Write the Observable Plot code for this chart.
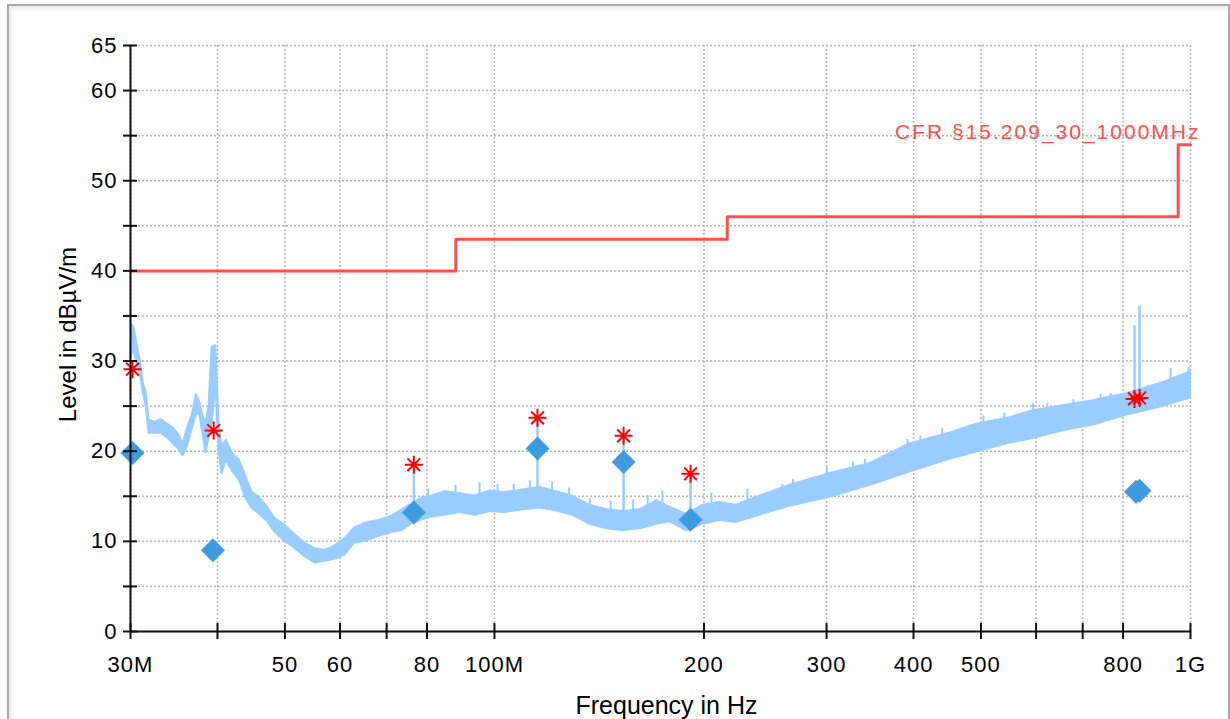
<!DOCTYPE html>
<html><head><meta charset="utf-8">
<script src="https://cdn.jsdelivr.net/npm/d3@7"></script>
<script src="https://cdn.jsdelivr.net/npm/@observablehq/plot@0.6"></script>
<style>
html,body{margin:0;padding:0;background:#fff;overflow:hidden;width:1230px;height:719px;}
#frame{position:absolute;left:7px;top:4px;width:1219px;height:800px;border:2px solid #a9a9a9;box-shadow:inset 3px 3px 4px #ececec;}
#chart{position:absolute;left:0;top:0;}
svg text{font-family:"Liberation Sans",Arial,sans-serif;}
</style></head><body><div id="frame"></div><div id="chart"></div>
<script>
// Spectrum trace envelope (MHz, dBµV/m)
const traceFreq = [30.0,30.2,30.4,30.7,31.0,31.3,31.6,31.9,32.5,33.2,33.9,34.6,35.2,35.7,36.2,36.8,37.3,37.7,38.1,38.5,38.9,39.3,39.8,40.2,40.6,41.2,42.0,43.0,43.8,44.8,46.0,47.2,48.4,50.0,51.6,53.4,55.2,57.1,59.0,61.0,63.0,65.2,68.0,71.3,73.7,76.2,78.7,81.4,84.9,89.2,93.7,98.5,103.5,110,116.2,122.6,129.6,137.1,145,153,161.8,171.1,178.6,188.9,199.1,210.5,222.7,240.4,265.5,303,345.8,394.8,450.6,493,550,594,650,725,811,905,1000];
const traceLow = [30.0,31.0,31.0,29.5,28.5,26.5,25.0,22.0,22.0,22.0,21.5,20.8,20.2,19.5,20.5,22.5,24.0,24.3,22.0,19.8,21.5,23.0,27.5,20.0,17.5,19.0,17.8,16.8,15.0,13.7,13.0,12.2,11.0,10.0,9.3,8.3,7.6,7.8,8.0,8.5,9.8,10.0,10.5,11.0,11.2,12.0,12.4,12.7,12.9,13.2,12.9,13.3,13.2,13.5,13.7,13.4,12.9,11.9,11.4,11.2,11.4,11.9,12.2,11.2,11.9,12.3,12.1,12.9,13.9,14.9,16.2,17.7,19.1,19.9,20.9,21.4,22.2,22.9,24.0,24.9,25.9];
const traceHigh = [31.5,34.0,33.5,31.5,30.0,27.5,26.5,23.5,23.2,23.5,23.0,22.5,21.8,20.8,22.5,24.0,26.3,25.5,24.0,23.0,25.0,31.5,31.7,23.0,20.5,21.2,19.8,19.0,17.5,15.5,14.8,13.8,12.5,11.8,10.8,9.8,9.2,9.0,9.5,10.3,11.5,12.0,12.3,12.8,13.5,14.2,14.8,15.0,15.5,15.3,15.0,15.6,15.4,15.7,16.0,15.5,15.0,14.0,13.5,13.3,13.5,14.5,13.8,13.0,14.0,14.3,14.0,15.0,16.2,17.5,18.6,20.8,22.0,23.0,23.7,24.5,25.0,25.6,26.4,27.5,28.8];
// Narrow spikes in the trace (marker frequencies)
const spikeFreq = [76.6,115.3,153.3,191.3,831,845];
const spikeBase = [13.0,15.0,13.0,13.0,26.0,26.0];
const spikeTop = [18.3,23.5,21.3,17.3,33.9,36.1];
// Small noise hairs on the trace's upper edge
const hairFreq = [80.3,87.9,95.2,101,106.6,112.5,121,128,137.1,146.9,158.2,166,174.3,205,231,259.4,268.5,300.3,327.5,340.6,392,409,440,504,540,594,623,679,743,768,870,936,994];
const hairTop = [15.8,16.2,16.5,16.3,16.3,16.7,16.6,15.9,14.7,14.5,14.6,15.1,15.6,15.3,15.8,16.3,16.9,18.2,18.8,19.1,21.3,21.7,22.5,23.9,24.2,25.3,25.3,25.7,26.3,26.4,27.3,29.2,29.3];
// Peak detector results (red asterisks)
const peakFreq = [30.2,39.5,76.6,115.3,153.3,191.3,831,845];
const peakLevel = [29.1,22.3,18.5,23.7,21.7,17.5,25.8,25.9];
// Quasi-peak results (blue diamonds)
const qpFreq = [30.2,39.4,76.6,115.3,153.3,191.3,835,845];
const qpLevel = [19.8,9.0,13.2,20.3,18.8,12.4,15.5,15.6];
// Limit line
const limitFreq = [30,88,216,960,1000];
const limitLevel = [40,43.5,46,54,54];
const limitName = "CFR §15.209_30_1000MHz";
// Axes
const xTickValues = [30,40,50,60,70,80,100,200,300,400,500,600,700,800,1000];
const xLabelValues = [30,50,60,80,100,200,300,400,500,800,1000];
const xLabelTexts = ["30M","50","60","80","100M","200","300","400","500","800","1G"];
const yTickValues = [0,5,10,15,20,25,30,35,40,45,50,55,60,65];
const yLabelValues = [0,10,20,30,40,50,60,65];
const xTitle = "Frequency in Hz";
const yTitle = "Level in dBµV/m";

const trace = traceFreq.map((f,i)=>({f, lo: traceLow[i], hi: traceHigh[i]}));
const spikes = spikeFreq.map((f,i)=>({f, lo: spikeBase[i], hi: spikeTop[i]}));
const hairs = hairFreq.map((f,i)=>({f, lo: hairTop[i]-2.5, hi: hairTop[i]}));
const peaks = peakFreq.map((f,i)=>({f, v: peakLevel[i]}));
const qps = qpFreq.map((f,i)=>({f, v: qpLevel[i]}));
const limit = limitFreq.map((f,i)=>({f, v: limitLevel[i]}));
const xLabels = xLabelValues.map((f,i)=>({f, t: xLabelTexts[i]}));

const asterisk8 = {draw(ctx, size){
  const r = Math.sqrt(size/Math.PI), d = r*Math.SQRT1_2;
  ctx.moveTo(-r,0); ctx.lineTo(r,0);
  ctx.moveTo(0,-r); ctx.lineTo(0,r);
  ctx.moveTo(-d,-d); ctx.lineTo(d,d);
  ctx.moveTo(-d,d); ctx.lineTo(d,-d);
}};

const grid = {stroke:"#b4b4b4", strokeWidth:1.5, strokeDasharray:"2,2", strokeOpacity:1};
const chart = Plot.plot({
  width: 1230, height: 719,
  marginLeft: 130, marginRight: 40, marginTop: 45, marginBottom: 88,
  x: {type: "log", domain: [30, 1000], axis: null},
  y: {domain: [0, 65], axis: null},
  marks: [
    Plot.ruleX(xTickValues, {x: d=>d, ...grid}),
    Plot.ruleY(yTickValues, {y: d=>d, ...grid}),
    Plot.areaY(trace, {x: "f", y1: "lo", y2: "hi", fill: "#99ccff", stroke: "#99ccff", strokeWidth: 2}),
    Plot.ruleX(hairs, {x: "f", y1: "lo", y2: "hi", stroke: "#99ccff", strokeWidth: 2}),
    Plot.ruleX(spikes, {x: "f", y1: "lo", y2: "hi", stroke: "#99ccff", strokeWidth: 2.5}),
    Plot.line(limit, {x: "f", y: "v", curve: "step-after", stroke: "#ff4d4d", strokeWidth: 3}),
    Plot.text([limitName], {x: limitFreq[limitFreq.length-1], y: limitLevel[limitLevel.length-1], text: d=>d, textAnchor: "end", lineAnchor: "bottom", dx: 10, dy: -6, fill: "#ff4d4d", fontSize: 21}),
    Plot.dot(qps, {x: "f", y: "v", symbol: "diamond2", r: 10.8, fill: "#3f9be0", stroke: "none"}),
    Plot.dot(peaks, {x: "f", y: "v", symbol: asterisk8, r: 9, fill: "none", stroke: "#ff0000", strokeWidth: 2}),
    Plot.ruleY([0], {stroke: "#111", strokeWidth: 2}),
    Plot.ruleX([30], {stroke: "#111", strokeWidth: 2}),
    Plot.ruleX(xTickValues, {x: d=>d, y1: 0, y2: 0, insetTop: -8, insetBottom: -8, stroke: "#111", strokeWidth: 2}),
    Plot.ruleY(yTickValues, {y: d=>d, x1: 30, x2: 30, insetLeft: -7, insetRight: -7, stroke: "#111", strokeWidth: 2}),
    Plot.text(xLabels, {x: "f", y: 0, text: "t", lineAnchor: "top", dy: 25, fontSize: 22, fill: "#000"}),
    Plot.text(yLabelValues, {x: 30, y: d=>d, text: d=>String(d), textAnchor: "end", lineAnchor: "middle", dx: -13, fontSize: 22, fill: "#000"}),
    Plot.text([xTitle], {frameAnchor: "bottom", text: d=>d, textAnchor: "middle", lineAnchor: "bottom", dx: 6, dy: 82, fontSize: 25, fill: "#000"}),
    Plot.text([yTitle], {frameAnchor: "left", text: d=>d, textAnchor: "middle", rotate: -90, lineAnchor: "bottom", dx: -55, dy: -4, fontSize: 24, fill: "#000"})
  ]
});
const tickTexts = new Set([...xLabelTexts, ...yLabelValues.map(String)]);
d3.select(chart).selectAll("text").each(function(){
  const t = this.textContent;
  if (t === limitName) this.style.letterSpacing = "2px";
  else if (tickTexts.has(t)) this.style.letterSpacing = "1px";
});
document.getElementById("chart").appendChild(chart);
</script>
</body></html>
